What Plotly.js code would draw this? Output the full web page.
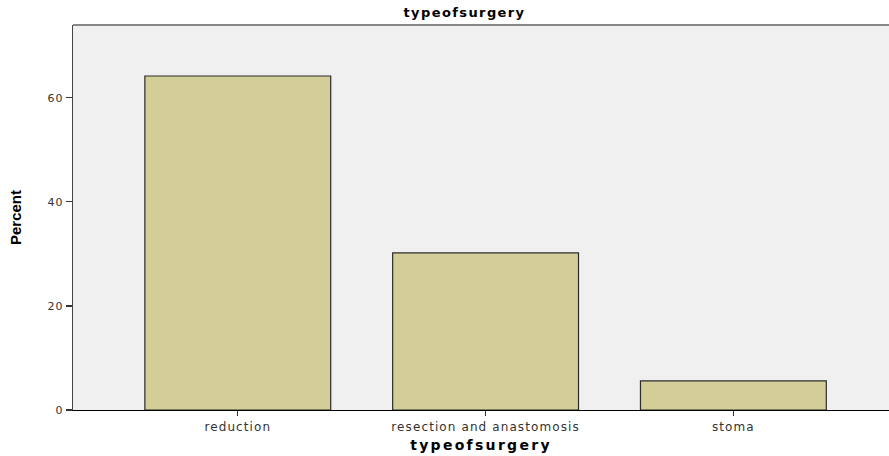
<!DOCTYPE html>
<html>
<head>
<meta charset="utf-8">
<script src="https://cdn.plot.ly/plotly-3.0.1.min.js"></script>
<style>
html,body{margin:0;padding:0;background:#fff;}
#chart{width:889px;height:456px;}
#chart .gtitle{letter-spacing:1.4px;}
#chart .xtitle{letter-spacing:2.3px;}
#chart .xtick text{letter-spacing:1.1px;}
#chart .ytick text{letter-spacing:1px;}
</style>
</head>
<body>
<div id="chart"></div>
<script>
const categories = ["reduction", "resection and anastomosis", "stoma"];
const percentValues = [64.2, 30.2, 5.6];
const yTickValues = [0, 20, 40, 60];
const yTickLabels = ["0", "20", "40", "60"];

const tickFont = { family: "DejaVu Sans, Verdana, sans-serif", size: 11, color: "#333" };
const xTickFont = { family: "DejaVu Sans, Verdana, sans-serif", size: 12, color: "#333" };

const trace = {
  type: "bar",
  x: categories,
  y: percentValues,
  width: 0.75,
  marker: { color: "#d3ce98", line: { color: "#2b2b2b", width: 1.2 } },
  hoverinfo: "x+y"
};

const layout = {
  width: 889,
  height: 456,
  margin: { l: 73, r: 0, t: 25, b: 46 },
  paper_bgcolor: "#ffffff",
  plot_bgcolor: "#f0f0f0",
  showlegend: false,
  font: tickFont,
  title: {
    text: "<b>typeofsurgery</b>",
    font: { family: "DejaVu Sans, Verdana, sans-serif", size: 13, color: "#000" },
    x: 0.5225, xanchor: "center", xref: "container",
    y: 0.973, yanchor: "middle", yref: "container"
  },
  xaxis: {
    type: "category",
    range: [-0.665, 2.628],
    showgrid: false,
    zeroline: false,
    showline: true,
    linecolor: "#000",
    linewidth: 1.2,
    ticks: "outside",
    ticklen: 5,
    tickwidth: 1.2,
    tickcolor: "#333",
    tickfont: xTickFont,
    title: {
      text: "<b>typeofsurgery</b>",
      font: { family: "DejaVu Sans, Verdana, sans-serif", size: 14, color: "#000" },
      standoff: 7
    },
    fixedrange: true
  },
  yaxis: {
    range: [0, 74],
    tickvals: yTickValues,
    ticktext: yTickLabels,
    showgrid: false,
    zeroline: false,
    showline: true,
    linecolor: "#444",
    linewidth: 1.2,
    ticks: "outside",
    ticklen: 6,
    tickwidth: 1.2,
    tickcolor: "#333",
    tickfont: tickFont,
    title: {
      text: "<b>Percent</b>",
      font: { family: "Liberation Sans Narrow, Arial Narrow, Liberation Sans, sans-serif", size: 15, color: "#000" },
      standoff: 24
    },
    fixedrange: true
  },
  shapes: [
    { type: "line", xref: "paper", yref: "paper", x0: 0, x1: 1, y0: 1, y1: 1,
      line: { color: "#888", width: 2 } }
  ]
};

Plotly.newPlot("chart", [trace], layout, { displayModeBar: false, staticPlot: true });
</script>
</body>
</html>
